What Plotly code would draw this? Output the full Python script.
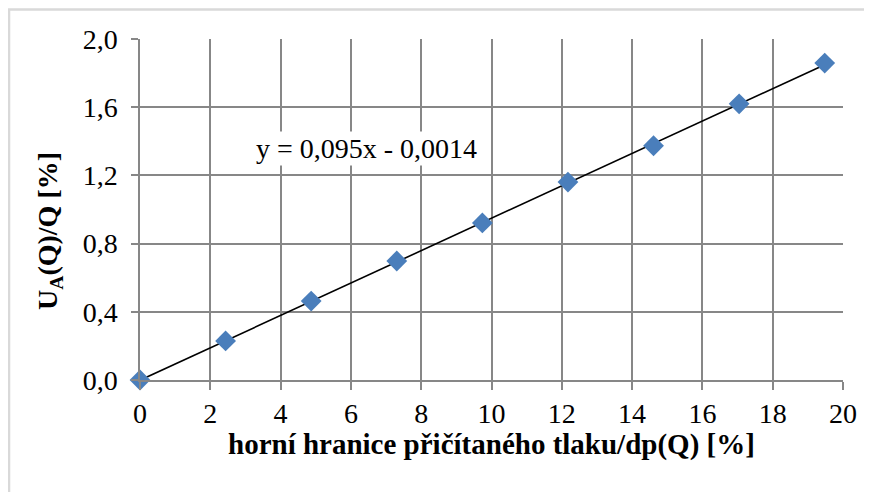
import plotly.graph_objects as go

# Data
x_vals = [0, 2.435, 4.87, 7.305, 9.74, 12.175, 14.61, 17.045, 19.48]
y_vals = [0.0, 0.229, 0.463, 0.698, 0.921, 1.161, 1.374, 1.620, 1.859]
trend_slope = 0.095
trend_intercept = -0.0014
x_ticks = [0, 2, 4, 6, 8, 10, 12, 14, 16, 18, 20]
y_ticks = [0.0, 0.4, 0.8, 1.2, 1.6, 2.0]
y_ticklabels = [f"{v:.1f}".replace(".", ",") for v in y_ticks]
x_title = "horní hranice přičítaného tlaku/dp(Q) [%]"
y_title = "U<sub>A</sub>(Q)/Q [%]"

FONT = "Liberation Serif"
GRID = "#878787"
FS = 28

trend_x = [min(x_vals), max(x_vals)]
trend_y = [trend_slope * v + trend_intercept for v in trend_x]
eq_text = "y = {}x - {}".format(
    f"{trend_slope:.3f}".replace(".", ","),
    f"{abs(trend_intercept):.4f}".replace(".", ","),
)

fig = go.Figure()
fig.add_trace(go.Scatter(
    x=trend_x, y=trend_y, mode="lines",
    line=dict(color="black", width=1.6),
    showlegend=False, hoverinfo="skip",
))
fig.add_trace(go.Scatter(
    x=x_vals, y=y_vals, mode="markers",
    marker=dict(symbol="diamond", size=16, color="#4a7ebb",
                line=dict(width=0)),
    showlegend=False, cliponaxis=False,
))

fig.add_annotation(
    x=6.45, y=1.355, xref="x", yref="y", text=eq_text, showarrow=False,
    font=dict(family=FONT, size=FS, color="black"),
    bgcolor="white", borderpad=1,
)

# axis titles
fig.add_annotation(
    x=0.4993, y=-0.19, xref="paper", yref="paper", xanchor="center", yanchor="middle",
    text=f"<b>{x_title}</b>", showarrow=False,
    font=dict(family=FONT, size=29, color="black"),
)
fig.add_annotation(
    x=-0.128, y=0.437, xref="paper", yref="paper", xanchor="center", yanchor="middle",
    text=f"<b>{y_title}</b>", showarrow=False, textangle=-90,
    font=dict(family=FONT, size=FS, color="black"),
)

# outer frame (light gray) partly cropped
fig.add_shape(type="rect", xref="paper", yref="paper",
              x0=-0.1863, x1=1.2, y0=-0.5, y1=1.0865,
              line=dict(color="#d9d9d9", width=2.5), layer="below")

fig.update_xaxes(
    range=[0, 20], tickvals=x_ticks, ticktext=[str(v) for v in x_ticks],
    showgrid=True, gridcolor=GRID, gridwidth=1.5,
    showline=True, linecolor=GRID, linewidth=1.5, mirror=False,
    ticks="outside", ticklen=8, tickcolor=GRID, tickwidth=1.5,
    zeroline=False,
    tickfont=dict(family=FONT, size=FS, color="black"),
)
fig.update_yaxes(
    range=[0, 2.0], tickvals=y_ticks, ticktext=y_ticklabels,
    showgrid=True, gridcolor=GRID, gridwidth=1.5,
    showline=True, linecolor=GRID, linewidth=1.5,
    ticks="outside", ticklen=7, tickcolor=GRID, tickwidth=1.5,
    ticklabelstandoff=8,
    zeroline=False,
    tickfont=dict(family=FONT, size=FS, color="black"),
)

fig.update_layout(
    width=872, height=492,
    margin=dict(l=132, r=37, t=31, b=120, autoexpand=False),
    plot_bgcolor="white", paper_bgcolor="white",
    font=dict(family=FONT),
)

fig.write_html("out.html")
